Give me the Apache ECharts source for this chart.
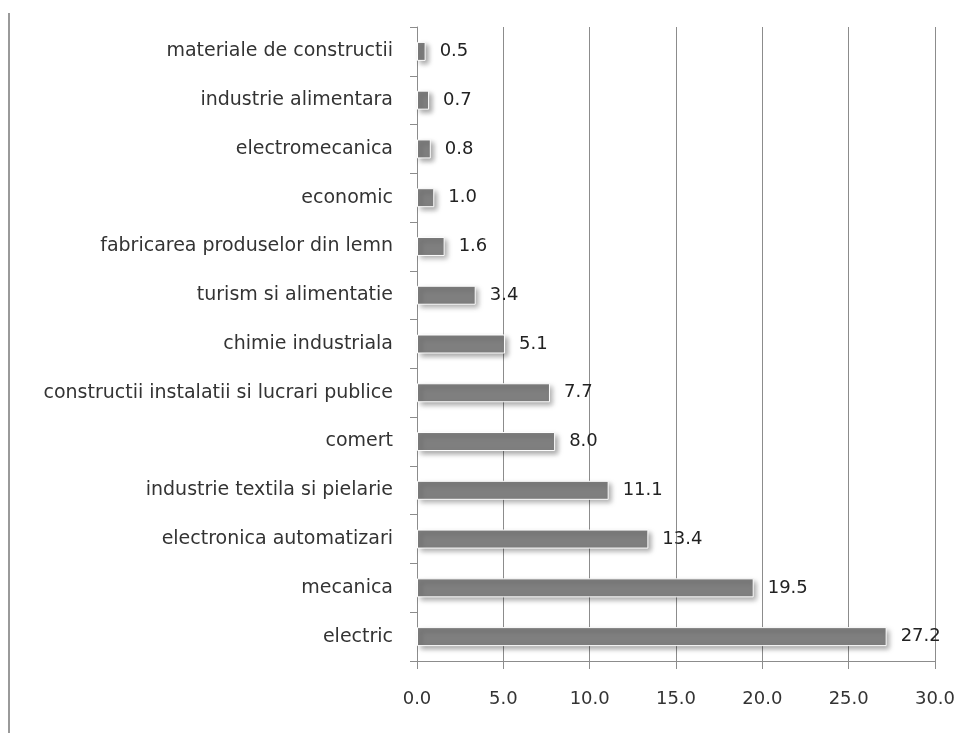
<!DOCTYPE html>
<html><head><meta charset="utf-8">
<script src="https://cdn.jsdelivr.net/npm/echarts@6/dist/echarts.min.js"></script>
<style>html,body{margin:0;padding:0;background:#fff}#c{width:966px;height:733px}</style>
</head><body><div id="c"></div>
<script>
const categories = ["electric","mecanica","electronica automatizari","industrie textila si pielarie","comert","constructii instalatii si lucrari publice","chimie industriala","turism si alimentatie","fabricarea produselor din lemn","economic","electromecanica","industrie alimentara","materiale de constructii"];
const values = [27.2,19.5,13.4,11.1,8.0,7.7,5.1,3.4,1.6,1.0,0.8,0.7,0.5];
const xTicks = {min:0,max:30,interval:5};
const chart = echarts.init(document.getElementById('c'));
const font = 'DejaVu Sans';
chart.setOption({
  animation:false,
  grid:{left:417,right:31,top:27,bottom:72,containLabel:false},
  graphic:[{type:'line',shape:{x1:9,y1:13,x2:9,y2:733},style:{stroke:'#9a9a9a',lineWidth:2}}],
  xAxis:{type:'value',min:xTicks.min,max:xTicks.max,interval:xTicks.interval,
    axisLine:{show:true,lineStyle:{color:'#8c8c8c',width:1}},
    axisTick:{show:true,length:8,lineStyle:{color:'#8c8c8c'}},
    splitLine:{show:true,lineStyle:{color:'#8c8c8c',width:1}},
    axisLabel:{formatter:v=>v.toFixed(1),color:'#333',fontSize:18,fontFamily:font,margin:29}},
  yAxis:{type:'category',data:categories,
    axisLine:{show:true,lineStyle:{color:'#8c8c8c'}},
    axisTick:{show:true,length:7,lineStyle:{color:'#8c8c8c'}},
    axisLabel:{color:'#333',fontSize:19,fontFamily:font,margin:24}},
  series:[{type:'bar',data:values,barWidth:19,
    itemStyle:{color:'#7f7f7f',borderColor:'#ffffff',borderWidth:1,shadowColor:'rgba(0,0,0,0.35)',shadowBlur:5,shadowOffsetX:3,shadowOffsetY:3},
    label:{show:true,position:'right',distance:14,formatter:p=>p.value.toFixed(1),color:'#222',fontSize:18,fontFamily:font}}]
});
</script></body></html>
